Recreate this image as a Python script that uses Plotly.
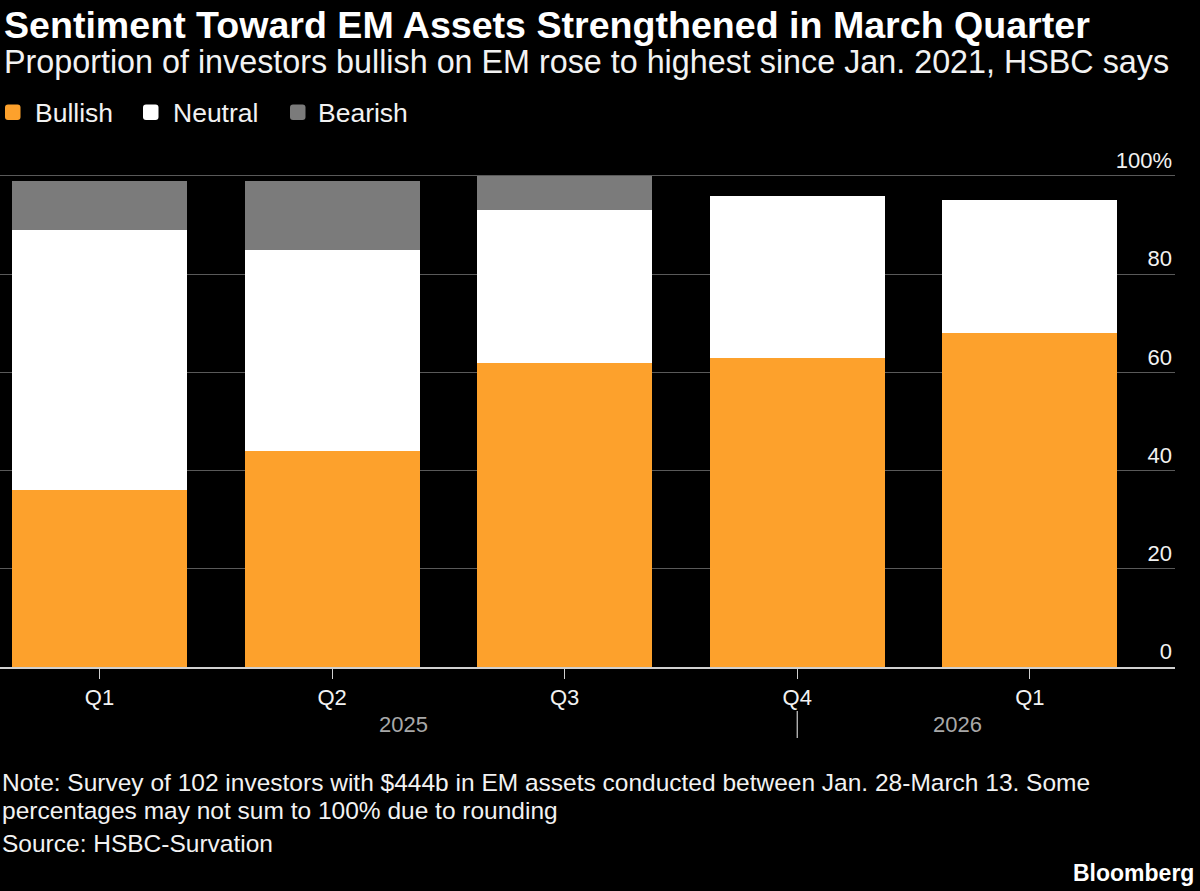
import plotly.graph_objects as go

# ---- data ----
quarters = ["Q1", "Q2", "Q3", "Q4", "Q1"]
years = ["2025", "2026"]
bullish = [36, 44, 62, 63, 68]
neutral = [53, 41, 31, 33, 27]
bearish = [10, 14, 7, 0, 0]
y_ticks = [0, 20, 40, 60, 80, 100]
y_tick_text = ["0", "20", "40", "60", "80", "100%"]
series_names = ["Bullish", "Neutral", "Bearish"]

# ---- layout geometry ----
W, H = 1200, 891
Y_TOP = 106.5                      # axis range top (so the 100% label fits)
L, R, B = 0, 25, 224
UNIT = 4.91                        # px per percentage point
T = round(H - B - Y_TOP * UNIT, 2)
PW = W - L - R
PH = H - T - B


def px(x):
    return (x - L) / PW


def py(y):
    return (H - B - y) / PH


FONT = "Liberation Sans, Arial, sans-serif"
ORANGE = "#fda12c"
WHITE = "#ffffff"
GRAY = "#7b7b7b"
TEXT = "#f2f2f2"
colors = [ORANGE, WHITE, GRAY]

xs = list(range(len(quarters)))
fig = go.Figure()
for name, vals, color in zip(series_names, [bullish, neutral, bearish], colors):
    fig.add_trace(go.Bar(
        x=xs, y=vals, name=name, width=0.752,
        marker=dict(color=color, line=dict(width=0)),
        showlegend=False,
    ))


def rounded_square(x0, y0, x1, y1, r):
    X = lambda v: px(v)
    Y = lambda v: py(v)
    return (f"M {X(x0+r)},{Y(y0)} L {X(x1-r)},{Y(y0)} Q {X(x1)},{Y(y0)} {X(x1)},{Y(y0+r)} "
            f"L {X(x1)},{Y(y1-r)} Q {X(x1)},{Y(y1)} {X(x1-r)},{Y(y1)} "
            f"L {X(x0+r)},{Y(y1)} Q {X(x0)},{Y(y1)} {X(x0)},{Y(y1-r)} "
            f"L {X(x0)},{Y(y0+r)} Q {X(x0)},{Y(y0)} {X(x0+r)},{Y(y0)} Z")


shapes = []
annotations = []

# custom legend
legend_sq_x = [5, 143, 290]
legend_txt_x = [33, 171, 316]
for name, color, sx, tx in zip(series_names, colors, legend_sq_x, legend_txt_x):
    shapes.append(dict(type="path", xref="paper", yref="paper",
                       path=rounded_square(sx, 104.5, sx + 15.5, 120, 3),
                       fillcolor=color, line=dict(width=0), layer="above"))
    annotations.append(dict(text=name, xref="paper", yref="paper", x=px(tx), y=py(113),
                            xanchor="left", yanchor="middle", showarrow=False,
                            font=dict(family=FONT, size=26.5, color=TEXT)))

# title + subtitle
annotations.append(dict(text="<b>Sentiment Toward EM Assets Strengthened in March Quarter</b>",
                        xref="paper", yref="paper", x=px(2), y=py(25), xanchor="left", yanchor="middle",
                        showarrow=False, font=dict(family=FONT, size=37.6, color=WHITE)))
annotations.append(dict(text="Proportion of investors bullish on EM rose to highest since Jan. 2021, HSBC says",
                        xref="paper", yref="paper", x=px(2), y=py(62), xanchor="left", yanchor="middle",
                        showarrow=False, font=dict(family=FONT, size=32.3, color=TEXT)))

# year labels and separator
annotations.append(dict(text=years[0], xref="paper", yref="paper", x=px(403), y=py(724),
                        xanchor="center", yanchor="middle", showarrow=False,
                        font=dict(family=FONT, size=22, color="#a8a8a8")))
annotations.append(dict(text=years[1], xref="paper", yref="paper", x=px(957), y=py(724),
                        xanchor="center", yanchor="middle", showarrow=False,
                        font=dict(family=FONT, size=22, color="#a8a8a8")))
shapes.append(dict(type="line", xref="x", yref="paper", x0=3, x1=3, y0=py(711), y1=py(738),
                   line=dict(color="#bdbdbd", width=1.3)))

# notes
notes = [
    ("Note: Survey of 102 investors with $444b in EM assets conducted between Jan. 28-March 13. Some", 782),
    ("percentages may not sum to 100% due to rounding", 810),
    ("Source: HSBC-Survation", 843),
]
for txt, yy in notes:
    annotations.append(dict(text=txt, xref="paper", yref="paper", x=px(0), y=py(yy),
                            xanchor="left", yanchor="middle", showarrow=False,
                            font=dict(family=FONT, size=24.5, color=TEXT)))
annotations.append(dict(text="<b>Bloomberg</b>", xref="paper", yref="paper", x=px(1196), y=py(873),
                        xanchor="right", yanchor="middle", showarrow=False,
                        font=dict(family=FONT, size=23, color=WHITE)))

fig.update_layout(
    width=W, height=H,
    margin=dict(l=L, r=R, t=T, b=B, pad=0),
    paper_bgcolor="#000000", plot_bgcolor="#000000",
    barmode="stack", bargap=0,
    font=dict(family=FONT, color=TEXT),
    shapes=shapes, annotations=annotations,
    showlegend=False,
)
fig.update_xaxes(
    range=[-0.4278, 4.624], tickvals=xs, ticktext=quarters,
    showgrid=False, zeroline=False,
    showline=True, linecolor="#d0d0d0", linewidth=1.5,
    ticks="outside", ticklen=10, tickwidth=1.3, tickcolor="#d0d0d0",
    tickfont=dict(family=FONT, size=22, color=TEXT),
)
fig.update_yaxes(
    range=[0, Y_TOP], tickvals=y_ticks, ticktext=y_tick_text,
    side="right", ticklabelposition="inside top",
    showgrid=True, gridcolor="#595959", gridwidth=1.3,
    zeroline=False, showline=False, ticks="",
    tickfont=dict(family=FONT, size=22, color=TEXT),
)

fig.write_html(
    "out.html",
    config={"displayModeBar": False},
    post_script="document.body.style.margin='0';document.body.style.overflow='hidden';"
                "document.documentElement.style.overflow='hidden';",
)
